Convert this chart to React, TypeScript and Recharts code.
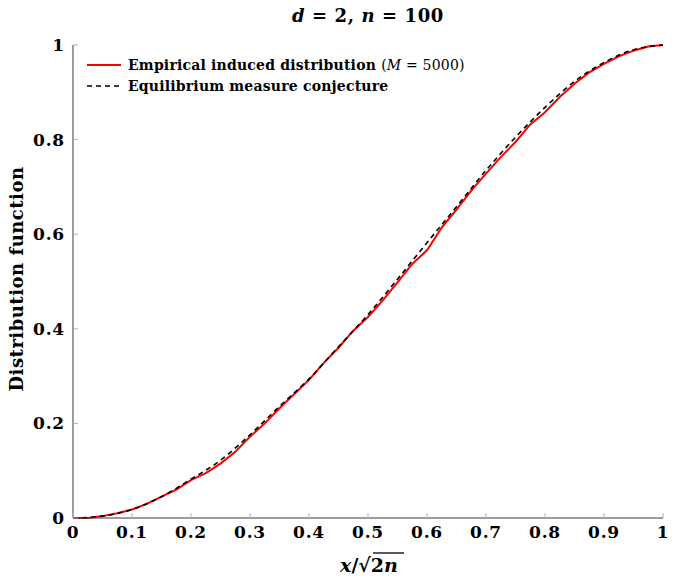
import { Line, LineChart, XAxis, YAxis } from "recharts";

const xTicks = [0, 0.1, 0.2, 0.3, 0.4, 0.5, 0.6, 0.7, 0.8, 0.9, 1];
const yTicks = [0, 0.2, 0.4, 0.6, 0.8, 1];

// empirical induced distribution (M = 5000), sampled every 0.025
const empX = [
  0, 0.025, 0.05, 0.075, 0.1, 0.125, 0.15, 0.175, 0.2, 0.225, 0.25, 0.275, 0.3,
  0.325, 0.35, 0.375, 0.4, 0.425, 0.45, 0.475, 0.5, 0.525, 0.55, 0.575, 0.6,
  0.625, 0.65, 0.675, 0.7, 0.725, 0.75, 0.775, 0.8, 0.825, 0.85, 0.875, 0.9,
  0.925, 0.95, 0.975, 1,
];
const empY = [
  0, 0, 0.004, 0.01, 0.018, 0.03, 0.045, 0.06, 0.08, 0.095, 0.115, 0.14, 0.172,
  0.2, 0.232, 0.262, 0.292, 0.328, 0.36, 0.396, 0.425, 0.46, 0.498, 0.537,
  0.566, 0.614, 0.652, 0.692, 0.728, 0.763, 0.795, 0.832, 0.858, 0.89, 0.918,
  0.942, 0.96, 0.976, 0.988, 0.997, 1,
];

// equilibrium measure conjecture, sampled every 0.05
const eqX = [
  0, 0.05, 0.1, 0.15, 0.2, 0.25, 0.3, 0.35, 0.4, 0.45, 0.5, 0.55, 0.6, 0.65,
  0.7, 0.75, 0.8, 0.85, 0.9, 0.95, 1,
];
const eqY = [
  0, 0.004, 0.018, 0.045, 0.082, 0.122, 0.176, 0.236, 0.294, 0.362, 0.43,
  0.505, 0.582, 0.658, 0.735, 0.805, 0.868, 0.923, 0.963, 0.99, 1,
];

const empirical = empX.map((x, i) => ({ x, y: empY[i] }));
const equilibrium = eqX.map((x, i) => ({ x, y: eqY[i] }));

const FONT = "'DejaVu Serif', serif";
const TICK_GRAY = "#b4b4b4";
const FRAME = "#3a3a3a";

function fmt(v: number) {
  return String(Number(v.toFixed(1)));
}

function BottomTick({ x, y, payload }: any) {
  return (
    <g>
      <line x1={x} x2={x} y1={y} y2={y - 5} stroke={TICK_GRAY} />
      <text x={x} y={y + 20} textAnchor="middle" fontFamily={FONT} fontWeight="bold" fontSize={17} letterSpacing={0.8} fill="#000">
        {fmt(payload.value)}
      </text>
    </g>
  );
}

function TopTick({ x, y }: any) {
  return <line x1={x} x2={x} y1={y} y2={y + 5} stroke={TICK_GRAY} />;
}

function LeftTick({ x, y, payload }: any) {
  return (
    <g>
      <line x1={x} x2={x + 5} y1={y} y2={y} stroke={TICK_GRAY} />
      <text x={x - 8} y={y + 6} textAnchor="end" fontFamily={FONT} fontWeight="bold" fontSize={17} letterSpacing={0.8} fill="#000">
        {fmt(payload.value)}
      </text>
    </g>
  );
}

function RightTick({ x, y }: any) {
  return <line x1={x} x2={x - 5} y1={y} y2={y} stroke={TICK_GRAY} />;
}

function Labels() {
  return (
    <svg
      width={677}
      height={585}
      style={{ position: "absolute", left: 0, top: 0, pointerEvents: "none" }}
    >
      <text x={368} y={22} textAnchor="middle" fontFamily={FONT} fontWeight="bold" fontSize={18} letterSpacing={0.6}>
        <tspan fontStyle="italic">d</tspan>
        <tspan> = 2, </tspan>
        <tspan fontStyle="italic">n</tspan>
        <tspan> = 100</tspan>
      </text>

      <text x={369} y={572} textAnchor="middle" fontFamily={FONT} fontWeight="bold" fontSize={19}>
        <tspan fontStyle="italic">x</tspan>
        <tspan>/√</tspan>
        <tspan>2</tspan>
        <tspan fontStyle="italic">n</tspan>
      </text>
      <line x1={373} x2={404} y1={553} y2={553} stroke="#000" strokeWidth={1.3} />

      <text
        transform="translate(23 279) rotate(-90)"
        textAnchor="middle"
        fontFamily={FONT}
        fontWeight="bold"
        fontSize={18}
        letterSpacing={0.5}
      >
        Distribution function
      </text>

      <line x1={87} x2={121} y1={65} y2={65} stroke="#ff0000" strokeWidth={2} />
      <text x={128} y={70} fontFamily={FONT} fontWeight="bold" fontSize={14} letterSpacing={0.2}>
        Empirical induced distribution{" "}
        <tspan fontWeight="normal">
          (<tspan fontStyle="italic">M</tspan> = 5000)
        </tspan>
      </text>
      <line x1={87} x2={121} y1={86} y2={86} stroke="#000" strokeWidth={1.6} strokeDasharray="5 4" />
      <text x={128} y={91} fontFamily={FONT} fontWeight="bold" fontSize={14} letterSpacing={0.2}>
        Equilibrium measure conjecture
      </text>
    </svg>
  );
}

export default function App() {
  return (
    <div style={{ position: "absolute", left: 0, top: 0, width: 677, height: 585, background: "#fff" }}>
      <LineChart width={677} height={585} margin={{ top: 45, right: 14, bottom: 0, left: 0 }}>
        <XAxis
          dataKey="x"
          type="number"
          domain={[0, 1]}
          ticks={xTicks}
          height={67}
          tickSize={0}
          tickMargin={0}
          tickLine={false}
          tick={<BottomTick />}
          axisLine={{ stroke: FRAME }}
          interval={0}
        />
        <XAxis
          xAxisId="top"
          orientation="top"
          dataKey="x"
          type="number"
          domain={[0, 1]}
          ticks={xTicks}
          height={0}
          tickSize={0}
          tickMargin={0}
          tickLine={false}
          tick={<TopTick />}
          axisLine={{ stroke: FRAME }}
          interval={0}
        />
        <YAxis
          type="number"
          domain={[0, 1]}
          ticks={yTicks}
          width={73}
          tickSize={0}
          tickMargin={0}
          tickLine={false}
          tick={<LeftTick />}
          axisLine={{ stroke: FRAME }}
          interval={0}
        />
        <YAxis
          yAxisId="right"
          orientation="right"
          type="number"
          domain={[0, 1]}
          ticks={yTicks}
          width={0}
          tickSize={0}
          tickMargin={0}
          tickLine={false}
          tick={<RightTick />}
          axisLine={{ stroke: FRAME }}
          interval={0}
        />
        <Line
          data={empirical}
          dataKey="y"
          type="linear"
          stroke="#ff0000"
          strokeWidth={2}
          dot={false}
          activeDot={false}
          isAnimationActive={false}
        />
        <Line
          data={equilibrium}
          dataKey="y"
          type="monotone"
          stroke="#000"
          strokeWidth={1.6}
          strokeDasharray="5 4"
          dot={false}
          activeDot={false}
          isAnimationActive={false}
        />
      </LineChart>
      <Labels />
    </div>
  );
}
